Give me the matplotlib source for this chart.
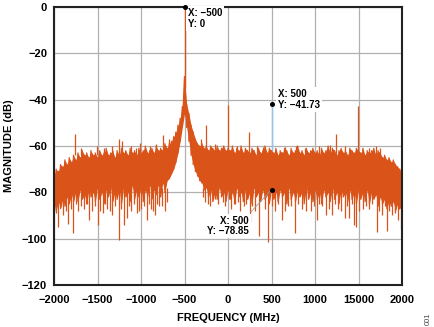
import numpy as np
import matplotlib
matplotlib.use("Agg")
import matplotlib.pyplot as plt

plt.rcParams['font.family'] = ['Liberation Sans', 'DejaVu Sans']
plt.rcParams['font.weight'] = 'bold'

# Spectrum sampled every 25 MHz: upper and lower edge of the noise floor (dB)
freq_start, freq_step = -2000, 25
floor_top = [
    -73, -70, -71, -68, -69, -66, -68, -65, -67, -64,
    -66, -63, -65, -62, -64, -63, -65, -62, -64, -63,
    -65, -62, -64, -63, -61, -64, -63, -62, -65, -62,
    -64, -61, -63, -62, -64, -61, -63, -62, -64, -61,
    -63, -62, -60, -63, -62, -61, -63, -60, -62, -61,
    -62, -59, -61, -59, -58, -56, -54, -51, -48, -43,
    -30, -42, -46, -51, -54, -57, -59, -60, -59, -61,
    -60, -62, -60, -61, -62, -60, -62, -61, -60, -62,
    -61, -62, -60, -63, -61, -62, -60, -63, -61, -62,
    -63, -61, -62, -64, -61, -63, -62, -60, -63, -61,
    -62, -63, -61, -64, -62, -63, -61, -62, -64, -61,
    -63, -62, -60, -63, -62, -64, -61, -63, -62, -61,
    -63, -62, -64, -61, -63, -62, -60, -63, -61, -62,
    -64, -62, -61, -63, -62, -64, -61, -62, -63, -61,
    -62, -63, -61, -64, -62, -63, -62, -61, -64, -62,
    -63, -65, -64, -66, -65, -67, -66, -68, -69, -70,
    -73,
]
floor_bottom = [
    -85, -88, -84, -87, -83, -86, -82, -85, -81, -84,
    -80, -84, -79, -83, -81, -85, -79, -82, -80, -84,
    -78, -83, -80, -85, -79, -82, -78, -84, -80, -83,
    -79, -85, -78, -82, -80, -84, -77, -83, -79, -82,
    -78, -84, -79, -82, -77, -83, -79, -81, -77, -82,
    -76, -80, -75, -74, -72, -70, -67, -63, -58, -52,
    -46, -52, -58, -64, -68, -71, -73, -75, -76, -79,
    -78, -82, -79, -84, -80, -83, -78, -82, -80, -84,
    -79, -83, -80, -85, -78, -82, -80, -84, -79, -83,
    -80, -85, -78, -82, -80, -84, -79, -83, -81, -85,
    -78.85, -83, -80, -84, -79, -82, -80, -85, -78, -83,
    -80, -84, -79, -82, -80, -85, -78, -83, -80, -84,
    -79, -83, -80, -85, -79, -82, -80, -84, -78, -83,
    -80, -85, -79, -82, -80, -84, -79, -83, -80, -85,
    -79, -83, -80, -84, -79, -85, -80, -83, -81, -86,
    -82, -85, -83, -87, -84, -86, -84, -88, -85, -87,
    -85,
]

# Narrow tones rising above the floor (MHz, dB)
tone_freq = [-1760, -1690, -1510, -1420, -1330, -1253, -1218, -1120, -1060, -1011,
             -900, -830, -744, -680, -310, -253, -150, 0, 100, 241,
             330, 403, 655, 780, 880, 1050, 1172, 1241, 1350, 1491,
             1620, 1700, 1747]
tone_db = [-55, -61, -60, -61, -60, -57, -58, -60, -61, -58.6,
           -60, -59, -55.2, -57, -57, -51, -59, -42.3, -60, -54,
           -60, -60.5, -60.5, -60, -61, -60, -59.6, -55, -60, -42.7,
           -61, -60, -61]

# Carrier
carrier_freq = [-500]
carrier_db = [0]

# Notches below the floor (MHz, dB)
notch_freq = [-1975, -1950, -1920, -1893, -1865, -1840, -1805, -1778, -1745, -1720,
              -1690, -1650, -1620, -1598, -1560, -1530, -1490, -1470, -1440, -1410,
              -1390, -1360, -1330, -1300, -1253, -1225, -1195, -1165, -1140, -1110,
              -1080, -1050, -1025, -1004, -970, -935, -910, -880, -860, -839,
              -815, -790, -760, -724, -700, -290, -270, -230, -210, -150,
              -110, -60, -30, 11, 40, 80, 111, 140, 180, 210,
              253, 280, 310, 360, 420, 462, 510, 540, 580, 617,
              650, 686, 720, 770, 810, 850, 900, 954, 990, 1019,
              1050, 1080, 1126, 1160, 1191, 1225, 1260, 1300, 1345, 1370,
              1391, 1420, 1448, 1471, 1510, 1550, 1590, 1621, 1660, 1709,
              1740, 1770, 1800, 1824, 1850, 1880, 1920, 1950, 1965, 1985]
notch_db = [-89, -94.8, -86, -90, -88, -93.5, -87, -97.4, -85, -88,
            -86, -87, -85, -92, -88, -86, -94, -88, -89, -85,
            -87, -88, -90, -86, -100.6, -87, -94, -91, -86, -88,
            -85, -89, -88, -87, -86, -92, -85, -87, -88, -90,
            -85, -86, -86, -88, -84, -82, -84, -85, -86, -83,
            -85, -84, -86, -83, -87, -85, -84, -88, -86, -85,
            -92.6, -86, -88, -99, -87, -101.3, -86, -88, -85, -92,
            -88, -86, -86, -97.7, -85, -87, -88, -88, -86, -92,
            -85, -86, -90, -87, -89.8, -85, -87, -88, -91, -86,
            -91, -85, -94, -95, -88, -87, -86, -87, -85, -97,
            -88, -90, -86, -96.6, -88, -90, -89, -92, -87, -95.8]

# Second trace, visible only at its image tone
image_freq = [500]
image_db = [-41.73]

# Data cursors
cursor_freq = [-500, 500, 500]
cursor_db = [0, -41.73, -78.85]

x_ticks = [-2000, -1500, -1000, -500, 0, 500, 1000, 1500, 2000]
x_tick_labels = ['\u22122000', '\u22121500', '\u22121000', '\u2212500', '0',
                 '500', '1000', '15000', '2000']
y_ticks = [0, -20, -40, -60, -80, -100, -120]

orange = '#DA5318'
n = len(floor_top)
grid_freq = freq_start + freq_step * np.arange(n)
trace_f = np.repeat(grid_freq, 2)
trace_db = np.empty(2 * n)
trace_db[0::2] = floor_top
trace_db[1::2] = floor_bottom

fig = plt.figure(figsize=(4.35, 3.27), dpi=100)
ax = fig.add_axes([54 / 435, 1 - 285 / 327, 348 / 435, 278 / 327])

ax.vlines(image_freq, -62, image_db, color='#8CC4F2', lw=1.0, zorder=1.5)
ax.fill_between(grid_freq, floor_bottom, floor_top, color=orange, lw=0, zorder=2)
ax.plot(trace_f, trace_db, color=orange, lw=0.9, zorder=2)
ax.vlines(tone_freq, -64, tone_db, color=orange, lw=0.9, zorder=2)
ax.vlines(carrier_freq, -35, carrier_db, color=orange, lw=1.0, zorder=2)
ax.vlines(notch_freq, -78, notch_db, color=orange, lw=0.9, zorder=2)

ax.plot(cursor_freq, cursor_db, 'o', color='black', ms=2.6, zorder=6, clip_on=False)

ann_kw = dict(fontsize=7, fontweight='bold', linespacing=1.05, zorder=5,
              bbox=dict(facecolor='white', edgecolor='none', pad=1.5))
ax.text(-460, -4.9, 'X: \u2212500\nY: 0', ha='left', va='center', **ann_kw)
ax.text(575, -40, 'X: 500\nY: \u221241.73', ha='left', va='center', **ann_kw)
ax.plot([500, 262], [-78.85, -88.5], color='#9a9a9a', lw=0.6, zorder=4)
ax.text(241, -94.5, 'X: 500\nY: \u221278.85', ha='right', va='center',
        multialignment='right', **ann_kw)

ax.set_xlim(-2000, 2000)
ax.set_ylim(-120, 0)
ax.set_xticks(x_ticks)
ax.set_xticklabels(x_tick_labels)
ax.set_yticks(y_ticks)
ax.grid(True, color='#b0b0b0', lw=0.9, zorder=0)
ax.set_axisbelow(True)
ax.tick_params(length=0, labelsize=8, pad=5)
for lab in ax.get_xticklabels() + ax.get_yticklabels():
    lab.set_fontweight('bold')
ax.tick_params(axis='x', pad=7)
for s in ax.spines.values():
    s.set_linewidth(1.5)
    s.set_color('#222222')

ax.set_xlabel('FREQUENCY (MHz)', fontsize=8, fontweight='bold', labelpad=6)
ax.set_ylabel('MAGNITUDE (dB)', fontsize=8, fontweight='bold', labelpad=6)

fig.text(428 / 435, 1 - 319 / 327, '001', rotation=90, fontsize=5.5,
         color='#444444', fontweight='normal', ha='center', va='center')

fig.savefig('out.png', dpi=100)
